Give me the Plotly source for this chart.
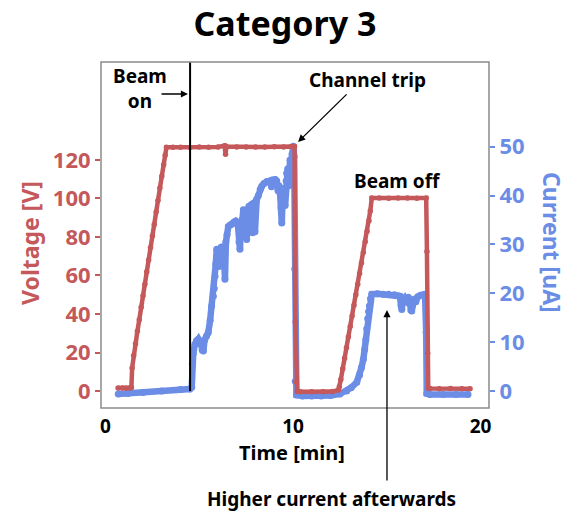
import plotly.graph_objects as go

# ---- data -------------------------------------------------------------
# Voltage applied to the channel [V] vs time [min]
time_voltage = [
    0.67, 0.90, 1.10, 1.30, 1.38, 1.42, 1.50, 1.60, 1.70, 1.80, 1.90, 2.00,
    2.10, 2.20, 2.30, 2.40, 2.50, 2.60, 2.70, 2.80, 2.90, 3.00, 3.10, 3.18,
    3.25, 3.60, 4.00, 4.50, 5.00, 5.50, 6.00, 6.35, 6.40, 6.45, 7.00, 7.50,
    8.00, 8.50, 9.00, 9.50, 9.90, 10.08, 10.12, 10.16, 10.22, 10.40, 11.00,
    11.60, 12.10, 12.42, 12.47, 12.55, 12.65, 12.75, 12.85, 12.95, 13.05,
    13.15, 13.25, 13.35, 13.45, 13.55, 13.65, 13.75, 13.85, 13.95, 14.05,
    14.12, 14.20, 14.60, 15.10, 15.60, 16.10, 16.60, 17.10, 17.14, 17.18,
    17.21, 17.30, 17.80, 18.40, 19.00, 19.44,
]
voltage = [
    1.5, 1.5, 1.4, 1.5, 1.8, 12.0, 18.5, 24.5, 31.0, 37.0, 43.5, 49.5,
    55.5, 62.0, 68.0, 74.5, 80.5, 86.5, 93.0, 99.0, 105.5, 111.5, 117.5, 122.5,
    126.6, 126.6, 126.6, 126.5, 126.7, 126.6, 126.8, 127.4, 123.0, 127.0, 126.8, 126.7,
    126.8, 126.7, 126.9, 126.8, 127.0, 127.0, 36.0, 4.8, -0.3, -0.4, -0.4,
    -0.4, -0.3, 0.5, 2.2, 6.0, 11.5, 17.0, 22.5, 28.0, 33.5,
    39.0, 44.5, 50.0, 55.5, 61.0, 66.5, 72.0, 77.5, 83.0, 88.5,
    93.5, 100.2, 100.2, 100.1, 100.2, 100.2, 100.1, 100.2, 72.4, 19.6,
    1.5, 1.3, 1.2, 1.3, 1.2, 1.2,
]

# Beam current [uA] vs time [min]
time_current = [
    0.68, 1.20, 2.00, 3.00, 4.00, 4.50, 4.60, 4.63, 4.68, 4.77, 4.85, 4.95,
    5.05, 5.15, 5.22, 5.28, 5.38, 5.48, 5.58, 5.66, 5.75, 5.80, 5.84, 5.88,
    5.93, 5.98, 6.02, 6.05, 6.10, 6.18, 6.25, 6.30, 6.37, 6.42, 6.48, 6.55,
    6.65, 6.75, 6.85, 6.95, 7.05, 7.12, 7.17, 7.22, 7.30, 7.35, 7.42, 7.48,
    7.53, 7.58, 7.65, 7.72, 7.78, 7.85, 7.90, 7.97, 8.02, 8.06, 8.15, 8.25,
    8.33, 8.45, 8.60, 8.75, 8.85, 8.92, 9.05, 9.13, 9.20, 9.25, 9.31, 9.36,
    9.40, 9.45, 9.52, 9.58, 9.63, 9.66, 9.72, 9.78, 9.84, 9.90, 9.95, 10.02,
    10.06, 10.09, 10.12, 10.18, 10.50, 11.00, 11.50, 12.00, 12.50, 12.86,
    13.10, 13.40, 13.55, 13.65, 13.75, 13.82, 13.88, 13.93, 13.98, 14.03,
    14.07, 14.13, 14.20, 14.50, 14.80, 15.10, 15.40, 15.60, 15.70, 15.76,
    15.80, 15.85, 15.95, 16.05, 16.15, 16.22, 16.28, 16.33, 16.38, 16.45,
    16.55, 16.65, 16.80, 16.95, 17.04, 17.10, 17.13, 17.30, 18.00, 18.70,
    19.33,
]
current = [
    -0.6, -0.5, -0.3, 0.0, 0.3, 0.4, 0.8, 5.5, 7.7, 9.6, 10.3, 10.6,
    9.8, 8.4, 8.2, 10.4, 11.2, 12.0, 14.5, 17.4, 19.4, 21.0, 23.5, 26.0,
    29.0, 27.0, 29.0, 25.5, 29.0, 29.5, 27.5, 29.5, 22.9, 30.5, 32.0, 33.7,
    34.0, 34.2, 34.6, 34.8, 34.5, 30.5, 29.0, 34.5, 35.1, 37.1, 33.0, 36.8,
    31.0, 37.0, 37.8, 33.5, 38.2, 32.4, 38.5, 32.6, 38.8, 39.2, 40.0, 41.3,
    41.9, 42.5, 42.9, 43.0, 41.8, 43.2, 43.3, 43.0, 41.0, 42.0, 40.5, 37.5,
    34.4, 40.0, 41.5, 38.0, 43.0, 44.6, 45.5, 42.0, 47.3, 46.0, 48.5, 50.1,
    48.0, 25.0, 2.0, -0.8, -1.0, -1.0, -1.0, -0.9, -0.6, 0.0,
    0.7, 1.8, 3.3, 4.8, 6.5, 8.5, 10.5, 12.7, 14.8, 16.3,
    17.4, 18.9, 19.8, 19.9, 19.8, 19.8, 19.7, 19.5, 19.4, 17.5,
    16.7, 18.5, 19.0, 18.2, 19.2, 17.8, 16.6, 16.4, 17.5, 18.8,
    18.3, 19.3, 19.6, 19.7, 19.8, 12.0, -0.5, -0.7, -0.7, -0.7,
    -0.7,
]

beam_on_time = 4.51
time_ticks = [0, 10, 20]
voltage_ticks = [0, 20, 40, 60, 80, 100, 120]
current_ticks = [0, 10, 20, 30, 40, 50]

time_range = [-0.24, 20.45]
voltage_range = [-8.83, 170.9]
current_range = [-3.47, 67.35]

# ---- style ------------------------------------------------------------
RED = "#C4585A"
BLUE = "#6B8DE6"
FONT = "Noto Sans"

fig = go.Figure()

# Current on the primary (right-hand) axis, voltage on the overlaid left
# axis so that the voltage trace sits on top of the current trace.
fig.add_trace(go.Scatter(
    x=time_current, y=current, yaxis="y", mode="lines+markers",
    line=dict(color=BLUE, width=6.5), marker=dict(color=BLUE, size=7),
    name="Current", showlegend=False,
))
fig.add_trace(go.Scatter(
    x=time_voltage, y=voltage, yaxis="y2", mode="lines+markers",
    line=dict(color=RED, width=4.5), marker=dict(color=RED, size=5.5),
    name="Voltage", showlegend=False,
))

def text_note(txt, x, y, size=19, color="black", angle=0):
    fig.add_annotation(
        text=txt, x=x, y=y, xref="paper", yref="paper",
        xanchor="center", yanchor="middle", showarrow=False,
        textangle=angle,
        font=dict(family=FONT, size=size, color=color, weight="bold"),
    )

def arrow(x, y, ax, ay, yref="paper"):
    fig.add_annotation(
        text="", x=x, y=y, xref="x", yref=yref, ax=ax, ay=ay,
        showarrow=True, arrowhead=2, arrowsize=1.1, arrowwidth=1.3,
        arrowcolor="black", standoff=0, startstandoff=0,
    )

# axis titles
text_note("Voltage [V]", -0.183, 0.477, size=23, color=RED, angle=-90)
text_note("Current [uA]", 1.162, 0.477, size=23, color=BLUE, angle=90)
text_note("Time [min]", 0.492, -0.130, size=20)

# event labels
text_note("Beam<br>on", 0.1005, 0.922)
arrow(4.40, 0.9075, -28, 0)
text_note("Channel trip", 0.686, 0.948)
arrow(10.27, 0.769, 50, -49)
text_note("Beam off", 0.765, 0.656)
text_note("Higher current afterwards", 0.593, -0.262)
arrow(15.01, 0.283, 0, 172)

# beam-on marker line and plot frame
fig.add_shape(
    type="line", xref="x", yref="y", x0=beam_on_time, x1=beam_on_time,
    y0=0, y1=current_range[1], line=dict(color="black", width=2), layer="above",
)
fig.add_shape(
    type="rect", xref="paper", yref="paper", x0=0, x1=1, y0=0, y1=1,
    line=dict(color="#8a8a8a", width=1.5), layer="above",
)

fig.update_layout(
    width=570, height=516,
    margin=dict(l=101, r=81, t=62, b=108),
    paper_bgcolor="white", plot_bgcolor="white",
    title=dict(
        text="Category 3", x=0.5, xref="container", xanchor="center",
        y=1 - 24 / 516, yref="container", yanchor="middle",
        font=dict(family=FONT, size=34, color="black", weight="bold"),
    ),
    xaxis=dict(
        range=time_range, tickvals=time_ticks, showgrid=False, zeroline=False,
        showline=False, ticks="", ticklabelstandoff=5,
        tickfont=dict(family=FONT, size=19, color="black", weight="bold"),
    ),
    yaxis=dict(
        range=current_range, tickvals=current_ticks, side="right",
        showgrid=False, zeroline=False, showline=False,
        ticks="outside", ticklen=5, tickwidth=2, tickcolor=BLUE,
        tickfont=dict(family=FONT, size=22, color=BLUE, weight="bold"),
    ),
    yaxis2=dict(
        range=voltage_range, tickvals=voltage_ticks, side="left",
        overlaying="y", showgrid=False, zeroline=False, showline=False,
        ticks="outside", ticklen=5, tickwidth=2, tickcolor=RED,
        tickfont=dict(family=FONT, size=22, color=RED, weight="bold"),
    ),
)

fig.write_html("out.html")
